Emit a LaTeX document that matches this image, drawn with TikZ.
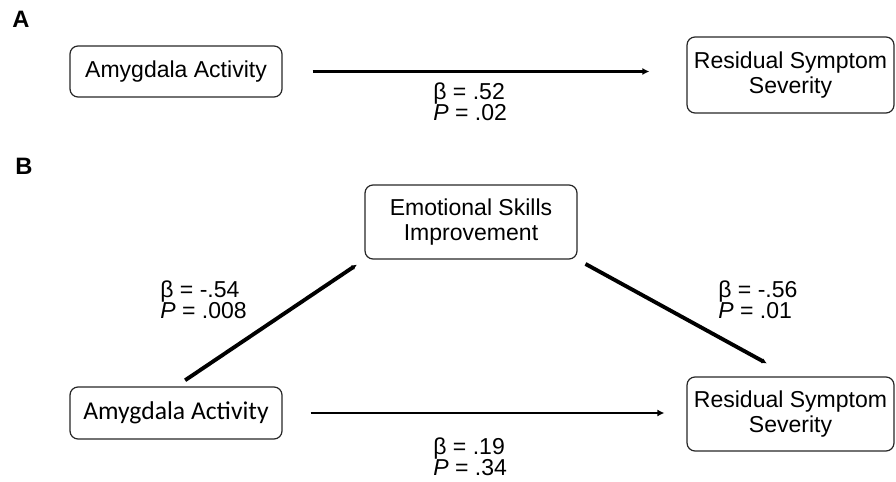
\documentclass[tikz,border=0pt]{standalone}
\usepackage{fontspec}
\setmainfont{Liberation Sans}
\newfontfamily\calibrifont{Carlito}
\usetikzlibrary{arrows.meta}

\begin{document}
\begin{tikzpicture}
    [
        x=0.02cm, y=-0.02cm,
        box style/.style={draw=black!85, line width=0.7pt, rounded corners=0.16cm, align=center, inner sep=0pt, font=\fontsize{13.1}{14.7}\selectfont},
        path style/.style={line width=1.7pt, -{Latex[length=4pt,width=4pt]}},
        coef style/.style={anchor=north west, align=left, inner sep=0pt, font=\fontsize{13.1}{16.3}\selectfont},
        panel style/.style={anchor=base west, inner sep=0pt, font=\fontsize{13.5}{15}\selectfont\bfseries}
    ]
    \useasboundingbox (0,0) rectangle (896,482);

    % panel A
    \node[panel style] (labA) at (12,28) {A};
    \node[box style, minimum width=4.24cm, minimum height=1.02cm] (amygA) at (176,71.5) {Amygdala Activity};
    \node[box style, minimum width=4.14cm, minimum height=1.52cm] (resA) at (790.5,75) {Residual Symptom\\Severity};
    \draw[path style, shorten <=0.6cm, shorten >=0.74cm] (amygA.east) -- (amygA.east -| resA.west);
    \node[coef style] (coefA) at (433,82) {β = .52\\[-4pt]\textit{P} = .02};

    % panel B
    \node[panel style] (labB) at (15,175) {B};
    \node[box style, minimum width=4.24cm, minimum height=1.48cm] (emot) at (471,222) {Emotional Skills\\Improvement};
    \node[box style, minimum width=4.24cm, minimum height=1.04cm, font=\fontsize{14.6}{16}\selectfont\calibrifont] (amygB) at (176,413) {Amygdala Activity};
    \node[box style, minimum width=4.14cm, minimum height=1.48cm] (resB) at (790.5,414) {Residual Symptom\\Severity};
    \draw[path style, line width=2.2pt, -{Latex[length=3pt,width=3pt]}, shorten <=0.22cm, shorten >=0.18cm] (amygB.north) -- (emot.south west);
    \draw[path style, line width=2.2pt, -{Latex[length=3pt,width=3pt]}, shorten <=0.18cm, shorten >=0.54cm] (emot.south east) -- (resB.north);
    \draw[path style, shorten <=0.56cm, shorten >=0.44cm] (amygB.east) -- (amygB.east -| resB.west);
    \node[coef style] (coefL) at (160,280) {β = -.54\\[-4pt]\textit{P} = .008};
    \node[coef style] (coefR) at (718,280) {β = -.56\\[-4pt]\textit{P} = .01};
    \node[coef style] (coefB) at (433,437) {β = .19\\[-4pt]\textit{P} = .34};

\end{tikzpicture}
\end{document}
